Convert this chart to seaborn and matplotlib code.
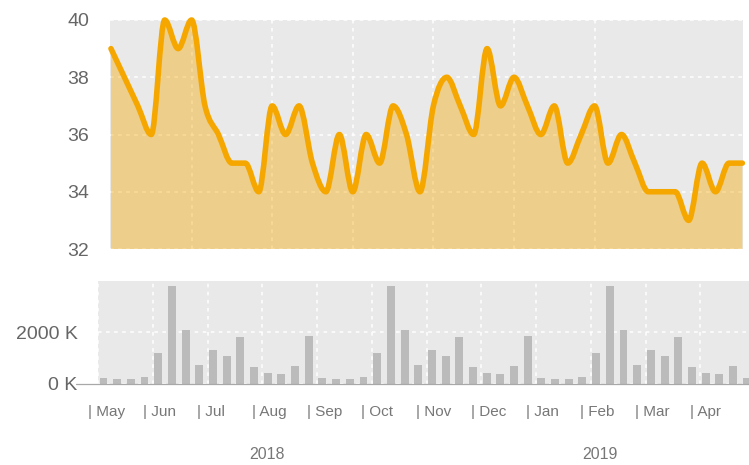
import numpy as np
import matplotlib
matplotlib.use("Agg")
import matplotlib.pyplot as plt
from matplotlib.path import Path
from matplotlib.patches import PathPatch
from matplotlib.transforms import ScaledTranslation, blended_transform_factory
import seaborn as sns

# weekly closing price (top panel)
price = [39, 38, 37, 36, 40, 39, 40, 37, 36, 35, 35, 34,
         37, 36, 37, 35, 34, 36, 34, 36, 35, 37, 36, 34,
         37, 38, 37, 36, 39, 37, 38, 37, 36, 37, 35, 36,
         37, 35, 36, 35, 34, 34, 34, 33, 35, 34, 35, 35]

# weekly volume in thousands (bottom panel)
volume_k = [220, 180, 190, 260, 1200, 3780, 2100, 720, 1310, 1100, 1810, 670, 410, 370, 680, 1870,
            220, 180, 190, 260, 1200, 3780, 2100, 720, 1310, 1100, 1810, 670, 410, 370, 680, 1870,
            220, 180, 190, 260, 1200, 3780, 2100, 720, 1310, 1100, 1810, 670, 410, 370, 680, 220]

months = ["May", "Jun", "Jul", "Aug", "Sep", "Oct", "Nov", "Dec", "Jan", "Feb", "Mar", "Apr"]
years = ["2018", "2019"]
price_ticks = [32, 34, 36, 38, 40]
volume_ticks = [0, 2000]

LINE = "#f5a700"
BG = "#e9e9e9"
TXT = "#666666"

sns.set_theme(style="darkgrid", rc={"axes.facecolor": BG, "figure.facecolor": "white",
                                    "lines.scale_dashes": False})
plt.rcParams["font.family"] = ["Liberation Sans", "DejaVu Sans"]

fig = plt.figure(figsize=(7.49, 4.65), dpi=100)
ax1 = fig.add_axes([0.1469, 0.4645, 0.8455, 0.4925])
ax2 = fig.add_axes([0.1312, 0.1742, 0.8688, 0.2222])


def monotone_path(xs, ys, floor=None):
    # d3 curveMonotoneX as cubic bezier segments
    xs = np.asarray(xs, float)
    ys = np.asarray(ys, float)
    h = np.diff(xs)
    s = np.diff(ys) / h
    n = len(xs)
    t = np.zeros(n)
    sgn = lambda v: -1.0 if v < 0 else 1.0
    for i in range(1, n - 1):
        s0, s1 = s[i - 1], s[i]
        p = (s0 * h[i] + s1 * h[i - 1]) / (h[i - 1] + h[i])
        t[i] = (sgn(s0) + sgn(s1)) * min(abs(s0), abs(s1), 0.5 * abs(p))
    t[0] = (3 * s[0] - t[1]) / 2
    t[-1] = (3 * s[-1] - t[-2]) / 2
    verts = [(xs[0], ys[0])]
    codes = [Path.MOVETO]
    for i in range(n - 1):
        d = h[i] / 3
        verts += [(xs[i] + d, ys[i] + d * t[i]), (xs[i + 1] - d, ys[i + 1] - d * t[i + 1]),
                  (xs[i + 1], ys[i + 1])]
        codes += [Path.CURVE4] * 3
    if floor is not None:
        verts += [(xs[-1], floor), (xs[0], floor), (xs[0], ys[0])]
        codes += [Path.LINETO, Path.LINETO, Path.CLOSEPOLY]
    return Path(verts, codes)


grid_kw = dict(color="white", linestyle=(0, (2.6, 3.2)), linewidth=1.1)

# ---- price panel
weeks = np.arange(len(price))
ax1.add_patch(PathPatch(monotone_path(weeks, price, floor=price_ticks[0]),
                        facecolor=LINE, alpha=0.4, edgecolor="none", zorder=2))
ax1.add_patch(PathPatch(monotone_path(weeks, price), facecolor="none", edgecolor=LINE,
                        linewidth=4.0, capstyle="round", joinstyle="round", zorder=3,
                        clip_on=False))
ax1.set_xlim(-0.07, len(price) - 1 + 0.07)
ax1.set_ylim(price_ticks[0], price_ticks[-1])
ax1.set_xticks(weeks[6:42:6])
ax1.set_xticklabels([])
ax1.set_yticks(price_ticks)
ax1.grid(True, **grid_kw)
ax1.tick_params(axis="both", length=0, labelsize=14, labelcolor=TXT)
ax1.tick_params(axis="y", pad=15)
for sp in ax1.spines.values():
    sp.set_visible(False)

# ---- volume panel
sns.barplot(x=list(range(len(volume_k))), y=volume_k, color="#bbbbbb", saturation=1,
            width=0.58, errorbar=None, linewidth=0, ax=ax2, zorder=2)
month_pos = -0.38 + 4 * np.arange(len(months))
ax2.set_xlim(month_pos[0], 47.17)
ax2.set_ylim(0, 4000)
ax2.set_xticks(month_pos)
ax2.set_xticklabels([])
ax2.set_yticks(volume_ticks)
ax2.set_yticklabels([f"{v} K" for v in volume_ticks])
ax2.set_xlabel("")
ax2.grid(True, **grid_kw)
ax2.tick_params(axis="both", length=0, labelsize=14, labelcolor=TXT)
ax2.tick_params(axis="y", pad=15)
for sp in ax2.spines.values():
    sp.set_visible(False)
ax2.axhline(0, xmin=-0.034, xmax=1, color="#a8a8a8", linewidth=0.9, clip_on=False, zorder=4)

trans = blended_transform_factory(ax2.transData, ax2.transAxes)
shift = ScaledTranslation(-10.5 / 100, 0, fig.dpi_scale_trans)
for pos, name in zip(month_pos, months):
    ax2.text(pos, -0.268, f"| {name}", transform=trans + shift, ha="left", va="center",
             fontsize=11, color="#777777", clip_on=False)

for pos, name in zip([11.94, 36.28], years):
    ax2.text(pos, -0.68, name, transform=trans, ha="center", va="center",
             fontsize=11.5, color="#777777", clip_on=False)

fig.savefig("out.png", dpi=100)
